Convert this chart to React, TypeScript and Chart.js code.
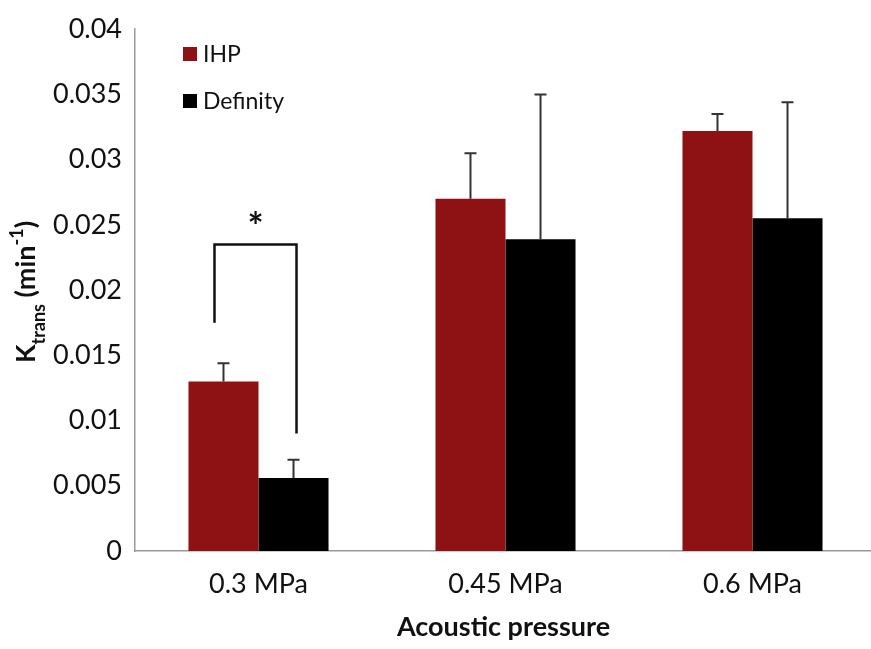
import React, { useEffect, useRef } from "react";
import { Chart, registerables } from "chart.js";

Chart.register(...registerables);

const categories = ["0.3 MPa", "0.45 MPa", "0.6 MPa"];
const seriesNames = ["IHP", "Definity"];
const ihpValues = [0.013, 0.027, 0.0322];
const ihpErrors = [0.0014, 0.0035, 0.0013];
const definityValues = [0.0056, 0.0239, 0.0255];
const definityErrors = [0.0014, 0.0111, 0.0089];
const yTickLabels = ["0", "0.005", "0.01", "0.015", "0.02", "0.025", "0.03", "0.035", "0.04"];
const bracketTop = 0.0235;
const bracketLeftEnd = 0.0175;
const bracketRightEnd = 0.009;
const significanceMark = "*";
const xTitle = "Acoustic pressure";

const RED = "#8e1214";
const FONT = "Lato, 'Open Sans', sans-serif";

const overlayPlugin = {
  id: "overlay",
  afterDatasetsDraw(chart: any) {
    const ctx = chart.ctx;
    const y = chart.scales.y;
    const errs = [ihpErrors, definityErrors];
    const vals = [ihpValues, definityValues];
    ctx.save();
    // error bars
    ctx.strokeStyle = "#333";
    ctx.lineWidth = 2;
    for (let d = 0; d < 2; d++) {
      const meta = chart.getDatasetMeta(d);
      meta.data.forEach((bar: any, i: number) => {
        const x = bar.x;
        const y0 = y.getPixelForValue(vals[d][i]);
        const y1 = y.getPixelForValue(vals[d][i] + errs[d][i]);
        ctx.beginPath();
        ctx.moveTo(x, y0);
        ctx.lineTo(x, y1);
        ctx.moveTo(x - 6, y1);
        ctx.lineTo(x + 6, y1);
        ctx.stroke();
      });
    }
    // significance bracket
    const b0 = chart.getDatasetMeta(0).data[0];
    const b1 = chart.getDatasetMeta(1).data[0];
    const lx = b0.x - 9;
    const rx = b1.x + 3;
    const ty = y.getPixelForValue(bracketTop);
    ctx.strokeStyle = "#111";
    ctx.lineWidth = 2.5;
    ctx.beginPath();
    ctx.moveTo(lx, y.getPixelForValue(bracketLeftEnd));
    ctx.lineTo(lx, ty);
    ctx.lineTo(rx, ty);
    ctx.lineTo(rx, y.getPixelForValue(bracketRightEnd));
    ctx.stroke();
    ctx.fillStyle = "#111";
    ctx.font = `bold 38px ${FONT}`;
    ctx.textAlign = "center";
    ctx.textBaseline = "alphabetic";
    ctx.fillText(significanceMark, (lx + rx) / 2, ty - 4);

    // legend
    const colors = [RED, "#000"];
    ctx.font = `23px ${FONT}`;
    ctx.textAlign = "left";
    ctx.textBaseline = "middle";
    seriesNames.forEach((name, i) => {
      const sy = 47 + i * 47;
      ctx.fillStyle = colors[i];
      ctx.fillRect(183, sy, 14, 14);
      ctx.fillStyle = "#111";
      ctx.fillText(name, 203, sy + 8);
    });

    // x title
    ctx.fillStyle = "#111";
    ctx.font = `bold 27px ${FONT}`;
    ctx.textAlign = "center";
    ctx.textBaseline = "alphabetic";
    const area = chart.chartArea;
    ctx.fillText(xTitle, (area.left + area.right) / 2 - 2, 636);

    // y title with sub/superscript
    ctx.translate(35, 363);
    ctx.rotate(-Math.PI / 2);
    ctx.textAlign = "left";
    let x = 0;
    const big = `bold 27px ${FONT}`;
    const small = `bold 18px ${FONT}`;
    const parts: [string, string, number][] = [
      ["K", big, 0],
      ["trans", small, 10],
      [" (min", big, 0],
      ["-1", small, -12],
      [")", big, 0],
    ];
    parts.forEach(([t, f, dy]) => {
      ctx.font = f;
      ctx.fillText(t, x, dy);
      x += ctx.measureText(t).width;
    });
    ctx.restore();
  },
};

export default function App() {
  const ref = useRef<HTMLCanvasElement | null>(null);
  useEffect(() => {
    if (!ref.current) return;
    const chart = new Chart(ref.current, {
      type: "bar",
      data: {
        labels: categories,
        datasets: [
          { label: seriesNames[0], data: ihpValues, backgroundColor: RED, borderWidth: 0 },
          { label: seriesNames[1], data: definityValues, backgroundColor: "#000", borderWidth: 0 },
        ],
      },
      options: {
        responsive: false,
        animation: false,
        layout: { padding: { top: 18, left: 0, right: 0, bottom: 0 } },
        datasets: { bar: { categoryPercentage: 0.567, barPercentage: 1.0 } },
        plugins: { legend: { display: false }, tooltip: { enabled: false } },
        scales: {
          x: {
            grid: { display: false, drawTicks: false },
            border: { display: true, color: "#9a9a9a", width: 1.5 },
            ticks: { color: "#111", font: { family: FONT, size: 27 }, padding: 17 },
            afterFit: (s: any) => { s.height = 98; },
          },
          y: {
            min: 0,
            max: 0.04,
            grid: { display: false, drawTicks: false },
            border: { display: true, color: "#9a9a9a", width: 1.5 },
            ticks: {
              stepSize: 0.005,
              color: "#111",
              font: { family: FONT, size: 27 },
              padding: 13,
              callback: (_v: any, i: number) => yTickLabels[i],
            },
            afterFit: (s: any) => { s.width = 135; },
          },
        },
      },
      plugins: [overlayPlugin],
    });
    return () => chart.destroy();
  }, []);
  return (
    <div style={{ position: "fixed", left: 0, top: 0, width: 871, height: 649, overflow: "hidden", background: "#fff" }}>
      <canvas ref={ref} width={876} height={649} style={{ display: "block" }} />
    </div>
  );
}
